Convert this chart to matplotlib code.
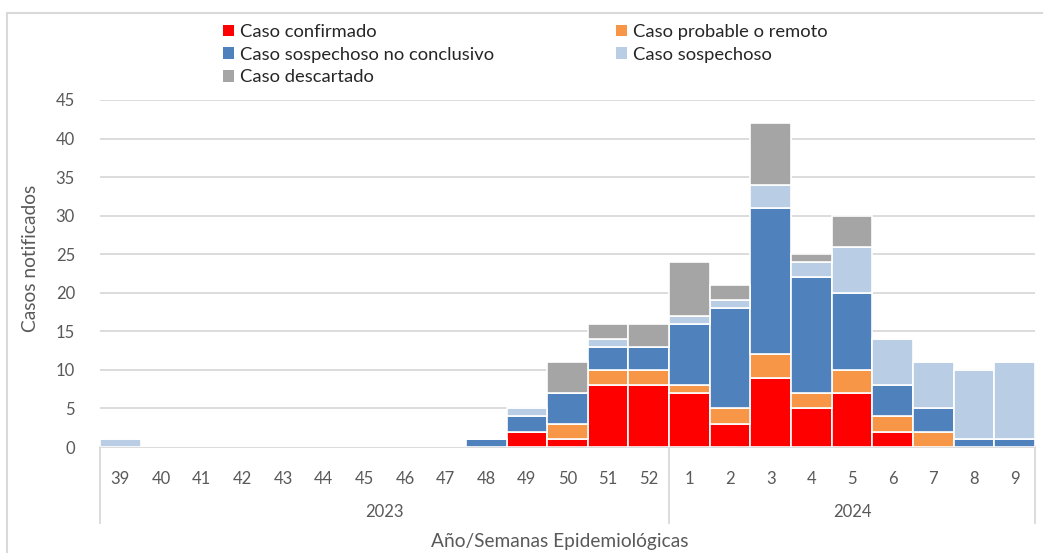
import matplotlib.pyplot as plt
import numpy as np
from matplotlib.patches import Rectangle, Patch
from matplotlib.transforms import blended_transform_factory

plt.rcParams['font.family'] = ['Lato', 'DejaVu Sans']

weeks = ['39', '40', '41', '42', '43', '44', '45', '46', '47', '48', '49', '50', '51', '52',
         '1', '2', '3', '4', '5', '6', '7', '8', '9']
years = ['2023', '2024']
n_2023 = 14

confirmado = [0, 0, 0, 0, 0, 0, 0, 0, 0, 0, 2, 1, 8, 8, 7, 3, 9, 5, 7, 2, 0, 0, 0]
probable = [0, 0, 0, 0, 0, 0, 0, 0, 0, 0, 0, 2, 2, 2, 1, 2, 3, 2, 3, 2, 2, 0, 0]
no_conclusivo = [0, 0, 0, 0, 0, 0, 0, 0, 0, 1, 2, 4, 3, 3, 8, 13, 19, 15, 10, 4, 3, 1, 1]
sospechoso = [1, 0, 0, 0, 0, 0, 0, 0, 0, 0, 1, 0, 1, 0, 1, 1, 3, 2, 6, 6, 6, 9, 10]
descartado = [0, 0, 0, 0, 0, 0, 0, 0, 0, 0, 0, 4, 2, 3, 7, 2, 8, 1, 4, 0, 0, 0, 0]

series = [
    ('Caso confirmado', confirmado, '#FF0000'),
    ('Caso probable o remoto', probable, '#F79646'),
    ('Caso sospechoso no conclusivo', no_conclusivo, '#4F81BD'),
    ('Caso sospechoso', sospechoso, '#B9CDE5'),
    ('Caso descartado', descartado, '#A5A5A5'),
]

text_col = '#595959'
grid_col = '#D9D9D9'

fig = plt.figure(figsize=(10.43, 5.53), dpi=100)
ax = fig.add_axes([100 / 1043, 106 / 553, 935 / 1043, 347 / 553])

x = np.arange(len(weeks))
bottom = np.zeros(len(weeks))
for name, vals, col in series:
    vals = np.array(vals, dtype=float)
    ax.bar(x, vals, width=1.0, bottom=bottom, color=col, edgecolor='white',
           linewidth=1.2, label=name, zorder=3)
    bottom += vals

ax.set_xlim(-0.5, len(weeks) - 0.5)
ax.set_ylim(0, 45)
ax.set_yticks(range(0, 46, 5))
ax.yaxis.grid(True, color=grid_col, linewidth=1.3)
ax.set_axisbelow(True)
for s in ['left', 'right', 'top']:
    ax.spines[s].set_visible(False)
ax.spines['bottom'].set_color(grid_col)
ax.spines['bottom'].set_linewidth(1.3)
ax.tick_params(axis='y', length=0, pad=18, labelsize=12, labelcolor=text_col)
ax.set_xticks(x)
ax.set_xticklabels(weeks)
ax.tick_params(axis='x', length=0, pad=17, labelsize=12, labelcolor=text_col)

# second level of the category axis: years with separator lines
trans = blended_transform_factory(ax.transData, ax.transAxes)
for xs in [-0.5, n_2023 - 0.5, len(weeks) - 0.5]:
    ax.plot([xs, xs], [0, -0.22], transform=trans, color=grid_col, lw=1.3, clip_on=False)
ax.text((n_2023 - 1) / 2, -0.188, years[0], transform=trans, ha='center', va='center',
        fontsize=12, color=text_col)
ax.text((n_2023 + len(weeks) - 1) / 2, -0.188, years[1], transform=trans, ha='center',
        va='center', fontsize=12, color=text_col)

fig.text(560 / 1043, 1 - 541 / 553, 'Año/Semanas Epidemiológicas', ha='center', va='center',
         fontsize=13.8, color=text_col)
fig.text(31 / 1043, 1 - 258 / 553, 'Casos notificados', ha='center', va='center',
         rotation=90, fontsize=13.8, color=text_col)

# legend: two columns, filled column-wise
order = [0, 2, 4, 1, 3]
handles = [Patch(facecolor=series[i][2], edgecolor='none') for i in order]
labels = [series[i][0] for i in order]
fig.legend(handles, labels, ncol=2, loc='upper left', bbox_to_anchor=(223 / 1043, 1 - 24 / 553),
           frameon=False, fontsize=13.2, labelcolor='#262626', handlelength=0.6,
           handleheight=0.6, handletextpad=0.35, columnspacing=6.6, labelspacing=0.36,
           borderpad=0, borderaxespad=0)

# chart border
fig.patches.append(Rectangle((7 / 1043, -0.1), 1.2, 1 - 13 / 553 + 0.1,
                             transform=fig.transFigure, fill=False,
                             edgecolor=grid_col, linewidth=1.5))

fig.savefig('out.png', dpi=100)
